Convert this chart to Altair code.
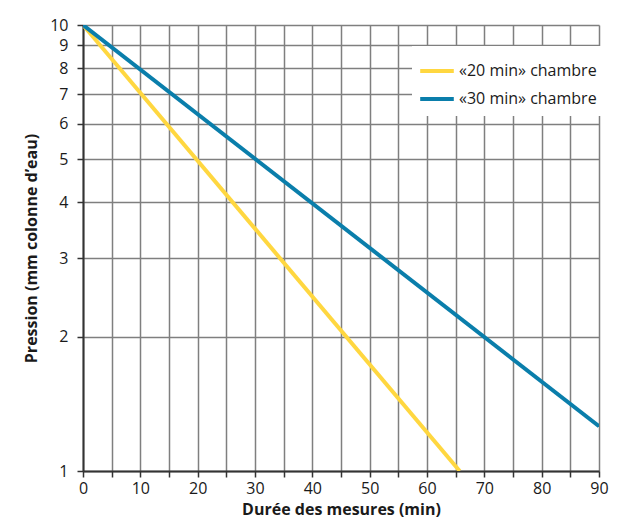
import altair as alt
import pandas as pd

series = ["«20 min» chambre", "«30 min» chambre"]
x_20 = [0, 65.7]
y_20 = [10, 1]
x_30 = [0, 90]
y_30 = [10, 1.26]
colors = ["#FFD740", "#0A7EAB"]

df = pd.DataFrame({
    "t": x_20 + x_30,
    "p": y_20 + y_30,
    "s": [series[0]] * len(x_20) + [series[1]] * len(x_30),
})

x_ticks = list(range(0, 95, 5))
y_ticks = list(range(1, 11))

chart = alt.Chart(df).mark_line(strokeWidth=4, clip=True).encode(
    x=alt.X("t:Q", scale=alt.Scale(domain=[0, 90], nice=False),
            axis=alt.Axis(values=x_ticks, title="Durée des mesures (min)",
                          labelExpr="datum.value % 10 == 0 ? datum.label : ''",
                          labelFlush=False,
                          grid=True, gridColor="#7f7f7f", gridWidth=1.5, gridOpacity=1,
                          domainColor="#333333", domainWidth=2,
                          tickColor="#333333", tickSize=6, tickWidth=1.5,
                          labelFontSize=16, labelColor="#1a1a1a", labelPadding=3,
                          titleFontSize=16, titleFontWeight="bold", titleColor="#1a1a1a",
                          titlePadding=5)),
    y=alt.Y("p:Q", scale=alt.Scale(type="log", domain=[1, 10], nice=False),
            axis=alt.Axis(values=y_ticks, title="Pression (mm colonne d’eau)",
                          format="d", labelFlush=False,
                          grid=True, gridColor="#7f7f7f", gridWidth=1.5, gridOpacity=1,
                          domainColor="#333333", domainWidth=2,
                          tickColor="#333333", tickSize=6, tickWidth=1.5,
                          labelFontSize=16, labelColor="#1a1a1a", labelPadding=9,
                          titleFontSize=16, titleFontWeight="bold", titleColor="#1a1a1a",
                          titlePadding=10)),
    color=alt.Color("s:N", scale=alt.Scale(domain=series, range=colors),
                    legend=alt.Legend(title=None, orient="none", legendX=329, legendY=21,
                                      fillColor="white", padding=9,
                                      symbolType="M-1.2,0H1.2", symbolStrokeWidth=4,
                                      symbolSize=784, labelFontSize=16,
                                      labelColor="#1a1a1a", rowPadding=4,
                                      labelOffset=6, labelLimit=300)),
).properties(
    width=516, height=446,
    autosize=alt.AutoSizeParams(type="none"),
    padding={"left": 75, "top": 17, "right": 10, "bottom": 50},
    background="white",
).configure(
    font="Open Sans",
).configure_view(
    stroke=None,
)

chart.save("out.html", embed_options={"renderer": "svg", "actions": False})
